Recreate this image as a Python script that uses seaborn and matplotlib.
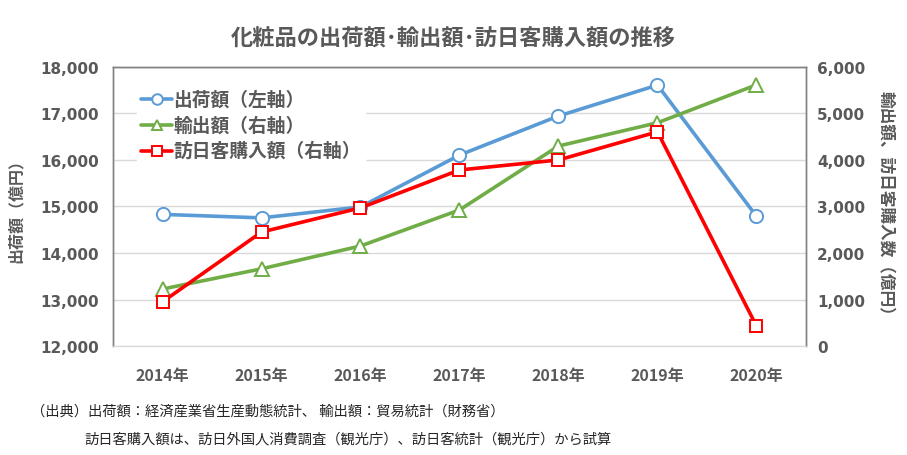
import pandas as pd
import matplotlib.pyplot as plt
import seaborn as sns

# data (億円)
years = ['2014年', '2015年', '2016年', '2017年', '2018年', '2019年', '2020年']
shipments = [14830, 14755, 14990, 16105, 16945, 17610, 14790]   # 左軸
exports = [1225, 1660, 2150, 2925, 4300, 4800, 5615]            # 右軸
inbound = [950, 2450, 2970, 3785, 4000, 4605, 430]              # 右軸

left_ticks = [12000, 13000, 14000, 15000, 16000, 17000, 18000]
right_ticks = [0, 1000, 2000, 3000, 4000, 5000, 6000]

sns.set_style('white')
plt.rcParams['font.family'] = ['Noto Sans CJK JP', 'DejaVu Sans']

gray = '#595959'
blue = '#5B9BD5'
green = '#70AD47'
red = '#FF0000'

df = pd.DataFrame({'pos': range(len(years)), 'shipments': shipments,
                   'exports': exports, 'inbound': inbound})

fig = plt.figure(figsize=(9.07, 4.56), dpi=100)
ax = fig.add_axes([0.1246, 0.239, 0.764, 0.612])
ax2 = ax.twinx()

sns.lineplot(data=df, x='pos', y='shipments', ax=ax, color=blue, lw=2.6,
             marker='o', markersize=9.5, markerfacecolor='white',
             markeredgecolor=blue, markeredgewidth=1.4, label='出荷額（左軸）',
             legend=False, zorder=3)
sns.lineplot(data=df, x='pos', y='exports', ax=ax2, color=green, lw=2.6,
             marker='^', markersize=9.5, markerfacecolor='white',
             markeredgecolor=green, markeredgewidth=1.4, label='輸出額（右軸）',
             legend=False, zorder=3)
sns.lineplot(data=df, x='pos', y='inbound', ax=ax2, color=red, lw=2.6,
             marker='s', markersize=8.5, markerfacecolor='white',
             markeredgecolor=red, markeredgewidth=1.4, label='訪日客購入額（右軸）',
             legend=False, zorder=4)

ax.set_xlim(-0.5, len(years) - 0.5)
ax.set_ylim(12000, 18000)
ax2.set_ylim(0, 6000)
ax.set_yticks(left_ticks)
ax2.set_yticks(right_ticks)
ax.set_yticklabels([f'{v:,}' for v in left_ticks], fontfamily='DejaVu Sans',
                   fontweight='bold', fontsize=11, color=gray)
ax2.set_yticklabels([f'{v:,}' for v in right_ticks], fontfamily='DejaVu Sans',
                    fontweight='bold', fontsize=11, color=gray)
ax.set_xticks(range(len(years)))
ax.set_xticklabels(years, fontweight='bold', fontsize=11.5, color=gray)
ax.tick_params(axis='x', length=0, pad=15)
ax.tick_params(axis='y', length=0, pad=10)
ax2.tick_params(axis='y', length=0, pad=8)

ax.yaxis.grid(True, color='#D9D9D9', lw=1)
ax.set_axisbelow(True)
for a in (ax, ax2):
    for side in ['top', 'left', 'right']:
        a.spines[side].set_color('#808080')
        a.spines[side].set_linewidth(1)
    a.spines['bottom'].set_color('#D9D9D9')

ax.set_xlabel('')
ax.set_ylabel('出荷額（億円）', fontsize=11.5, fontweight='bold', color=gray, labelpad=12)
ax2.set_ylabel('輸出額、訪日客購入数（億円）', fontsize=12, fontweight='bold',
               color=gray, rotation=270, labelpad=21)

handles = ax.get_lines()[:1] + ax2.get_lines()[:2]
leg = ax2.legend(handles=handles, labels=[h.get_label() for h in handles],
                 loc='upper left', bbox_to_anchor=(0.025, 0.96), frameon=True,
                 fancybox=False, edgecolor='white', framealpha=1,
                 handlelength=2.2, handletextpad=0.1, labelspacing=0.5,
                 borderpad=0.3, markerscale=0.8)
for t in leg.get_texts():
    t.set_fontsize(13.5)
    t.set_fontweight('bold')
    t.set_color(gray)

fig.text(0.5, 0.9, '化粧品の出荷額･輸出額･訪日客購入額の推移', ha='center',
         fontsize=16, fontweight='bold', color=gray)
fig.text(0.034, 0.088, '（出典）出荷額：経済産業省生産動態統計、 輸出額：貿易統計（財務省）',
         fontsize=10.3, color='#262626')
fig.text(0.093, 0.028, '訪日客購入額は、訪日外国人消費調査（観光庁）、訪日客統計（観光庁）から試算',
         fontsize=10.3, color='#262626')

fig.savefig('out.png', dpi=100)
